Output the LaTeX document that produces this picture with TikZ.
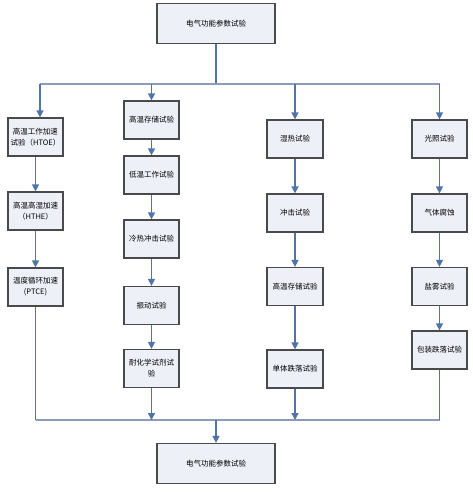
\documentclass[tikz,border=0pt]{standalone}
\usepackage{fontspec}
\newfontfamily\cjk{Noto Sans CJK SC}
\usetikzlibrary{arrows.meta}
\definecolor{boxfill}{HTML}{EEF0F8}
\definecolor{boxdraw}{HTML}{4A4A4A}
\definecolor{conn}{HTML}{4F74A8}
\definecolor{hline}{HTML}{8C9BB8}
\tikzset{
  box/.style={draw=boxdraw, fill=boxfill, line width=1.2pt, minimum width=55pt, minimum height=38pt,
    inner sep=1pt, align=center, font=\cjk\fontsize{7.5}{11}\selectfont},
  bigbox/.style={box, minimum width=118pt, minimum height=40pt},
  arr/.style={draw=conn, line width=1.3pt, -{Triangle[width=7pt,length=7pt]}, fill=conn},
  ln/.style={draw=conn, line width=1.3pt},
  hl/.style={draw=hline, line width=1.2pt}
}
\begin{document}
\begin{tikzpicture}[x=1pt,y=-1pt]
\useasboundingbox[fill=white] (0,0) rectangle (473,493);
% top and bottom
\node[bigbox] (top) at (216,23.5) {电气功能参数试验};
\node[bigbox] (bot) at (216,463.5) {电气功能参数试验};
% column 1
\node[box] (a1) at (35.5,137) {高温工作加速\\试验（HTOE）};
\node[box] (a2) at (35.5,211) {高温高湿加速\\（HTHE）};
\node[box] (a3) at (35.5,287) {温度循环加速\\(PTCE)};
% column 2
\node[box] (b1) at (151.5,120) {高温存储试验};
\node[box] (b2) at (151.5,175) {低温工作试验};
\node[box] (b3) at (151.5,239) {冷热冲击试验};
\node[box] (b4) at (151.5,305.5) {振动试验};
\node[box] (b5) at (151.5,368.5) {耐化学试剂试\\验};
% column 3
\node[box, minimum width=56pt] (c1) at (295,139) {湿热试验};
\node[box, minimum width=56pt] (c2) at (295,213) {冲击试验};
\node[box, minimum width=56pt] (c3) at (295,286.5) {高温存储试验};
\node[box, minimum width=56pt] (c4) at (295,369) {单体跌落试验};
% column 4
\node[box] (d1) at (439.5,139) {光照试验};
\node[box] (d2) at (439.5,213) {气体腐蚀};
\node[box] (d3) at (439.5,286.5) {盐雾试验};
\node[box] (d4) at (439.5,350) {包装跌落试验};
% top distribution line
\coordinate (tj) at (216,84);
\coordinate (tl) at (40,84);
\coordinate (tr) at (439.5,84);
\draw[ln] (top.south) -- (tj);
\draw[hl] (tl) -- (tr);
\draw[arr] (tl) -- (tl |- a1.north);
\draw[arr] (tj -| b1) -- (b1.north);
\draw[arr] (tj -| c1) -- (c1.north);
\draw[arr] (tr) -- (d1.north);
% bottom collecting line
\coordinate (bj) at (216,420);
\coordinate (bl) at (35.5,420);
\coordinate (br) at (439.5,420);
\draw[hl] (bl) -- (br);
\draw[ln] (a3.south) -- (bl);
\draw[ln] (d4.south) -- (br);
\draw[arr] (b5.south) -- (bj -| b5);
\draw[arr] (c4.south) -- (bj -| c4);
\draw[arr] (bj) -- (bot.north);
% column arrows
\draw[arr] (a1) -- (a2);
\draw[arr] (a2) -- (a3);
\draw[arr] (b1) -- (b2);
\draw[arr] (b2) -- (b3);
\draw[arr] (b3) -- (b4);
\draw[arr] (b4) -- (b5);
\draw[arr] (c1) -- (c2);
\draw[arr] (c2) -- (c3);
\draw[arr] (c3) -- (c4);
\draw[arr] (d1) -- (d2);
\draw[arr] (d2) -- (d3);
\draw[arr] (d3) -- (d4);
\end{tikzpicture}
\end{document}
